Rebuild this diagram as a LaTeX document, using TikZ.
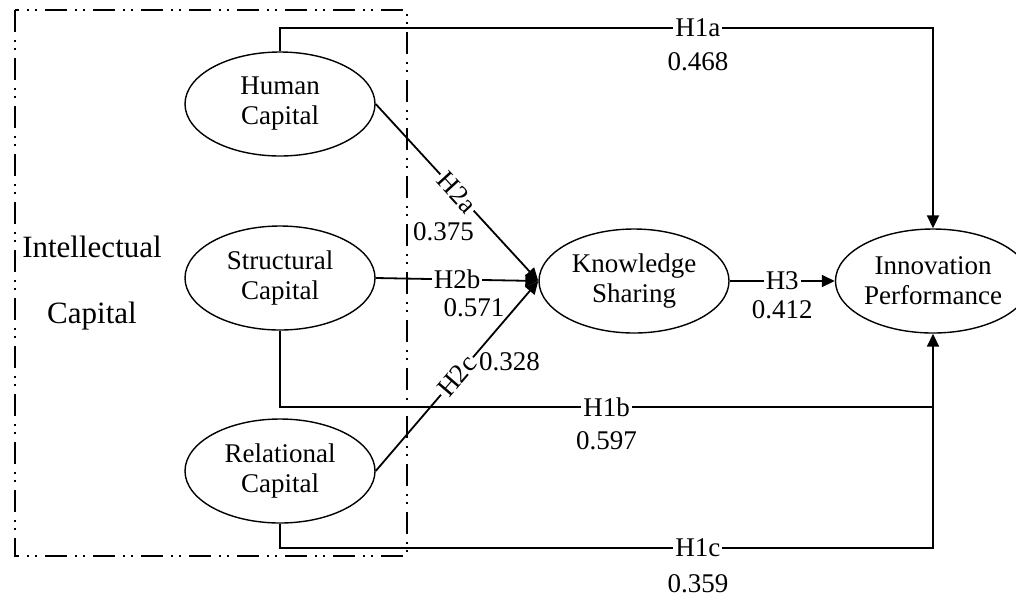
\documentclass[tikz,border=0pt]{standalone}
\usepackage{fontspec}
\setmainfont{Liberation Serif}
\usetikzlibrary{shapes.geometric,arrows.meta}

\begin{document}
\begin{tikzpicture}[
  x=0.5pt, y=-0.5pt,
  font=\fontsize{13.5}{15}\selectfont,
  construct/.style={ellipse, draw, line width=0.7pt, minimum width=95pt, minimum height=52pt, inner sep=0pt, align=center},
  conn/.style={line width=0.9pt, -{Triangle[length=6.5pt,width=6pt]}},
  plain/.style={line width=0.9pt},
  edge label/.style={rectangle, fill=white, inner sep=1pt},
  coef/.style={inner sep=0pt},
  group box/.style={line width=0.9pt, dash pattern=on 11pt off 4pt on 1pt off 3pt on 1pt off 4pt}
]
\useasboundingbox (0,0) rectangle (1016,596);

% Group box
\draw[group box] (15,10) rectangle (407,556);
\node (icap1) at (92,247) {\fontsize{15.5}{18}\selectfont Intellectual};
\node (icap2) at (92,316) {\fontsize{15.5}{18}\selectfont Capital};

% Nodes
\node[construct] (HC) at (280,104) {Human\\Capital};
\node[construct] (SC) at (280,278) {Structural\\Capital};
\node[construct] (RC) at (280,471) {Relational\\Capital};
\node[construct] (KS) at (634,281) {Knowledge\\Sharing};
\node[construct] (IP) at (933,281) {Innovation\\Performance};

\coordinate (bend1a) at (933,28);
\coordinate (bend1b) at (933,407);
\coordinate (bend1c) at (933,548);

% Edges
\draw[conn] (HC.north) |- (bend1a)
  node[pos=0.82, edge label] {H1a}
  node[pos=0.82, coef, yshift=-17pt] {0.468} -- (IP.north);
\draw[conn] (SC.south) |- (bend1b)
  node[pos=0.75, edge label] {H1b}
  node[pos=0.75, coef, yshift=-17pt] {0.597} -- (IP.south);
\draw[plain] (RC.south) |- (bend1c)
  node[pos=0.82, edge label] {H1c}
  node[pos=0.82, coef, yshift=-18pt] {0.359} -- (bend1b);

\draw[conn] (HC.east) -- (KS.west)
  node[midway, sloped, edge label] {H2a}
  node[pos=0.7, coef, xshift=-23pt, yshift=-2pt] {0.375};
\draw[conn] (SC.east) -- (KS.west)
  node[midway, edge label] {H2b}
  node[midway, coef, xshift=8.5pt, yshift=-14pt] {0.571};
\draw[conn] (RC.east) -- (KS.west)
  node[midway, sloped, edge label] {H2c}
  node[pos=0.577, coef, xshift=20pt] {0.328};

\draw[conn] (KS.east) -- (IP.west)
  node[midway, edge label] {H3}
  node[midway, coef, yshift=-14.5pt] {0.412};
\end{tikzpicture}
\end{document}
